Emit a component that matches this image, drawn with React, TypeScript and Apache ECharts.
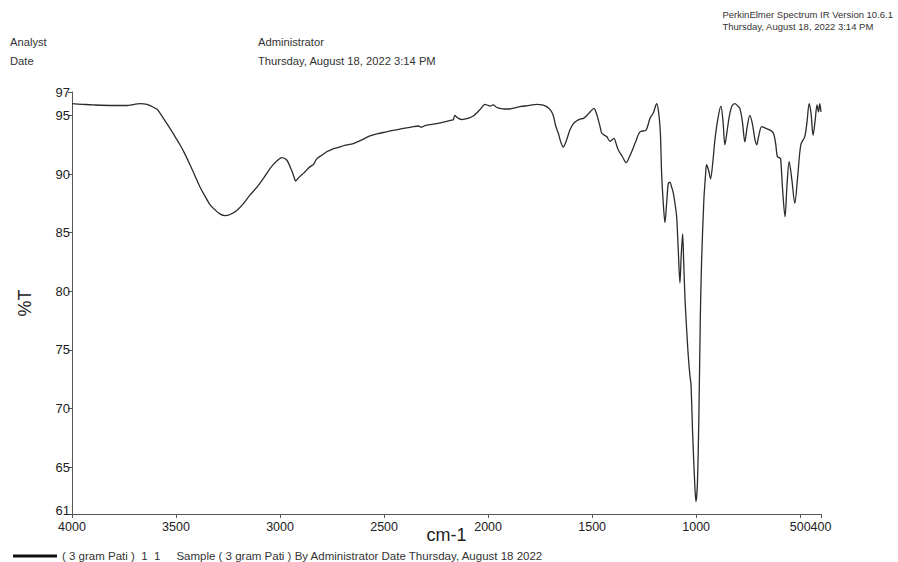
import React, { useEffect, useRef } from "react";
import * as echarts from "echarts";

const seriesName =
  "( 3 gram Pati )  1  1     Sample ( 3 gram Pati ) By Administrator Date Thursday, August 18 2022";

const xTicks = [4000, 3500, 3000, 2500, 2000, 1500, 1000, 500, 400];
const yTicks = [61, 65, 70, 75, 80, 85, 90, 95, 97];

const wavenumbers = [
  4000, 3950, 3900, 3800, 3737, 3700, 3673, 3640, 3620, 3590, 3577, 3555, 3529, 3505, 3481, 3457,
  3433, 3410, 3385, 3360, 3337, 3310, 3289, 3265, 3240, 3208, 3175, 3145, 3110, 3081, 3055, 3033,
  3010, 2992, 2968, 2944, 2932, 2925, 2915, 2904, 2885, 2864, 2850, 2840, 2824, 2800, 2776, 2745,
  2715, 2690, 2648, 2610, 2568, 2530, 2488, 2450, 2408, 2370, 2335, 2320, 2300, 2247, 2210, 2199,
  2175, 2167, 2160, 2150, 2143, 2125, 2111, 2090, 2071, 2050, 2039, 2015, 2000, 1991, 1975, 1960,
  1943, 1920, 1895, 1870, 1847, 1800, 1767, 1740, 1719, 1700, 1687, 1675, 1663, 1650, 1639, 1625,
  1607, 1590, 1574, 1555, 1542, 1525, 1510, 1491, 1480, 1470, 1460, 1454, 1440, 1430, 1414, 1395,
  1385, 1374, 1355, 1337, 1320, 1310, 1290, 1270, 1241, 1222, 1206, 1190, 1180, 1172, 1166, 1158,
  1150, 1142, 1134, 1126, 1118, 1110, 1102, 1094, 1086, 1078, 1072, 1065, 1060, 1054, 1045, 1038,
  1030, 1025, 1017, 1007, 1001, 994, 987, 980, 974, 963, 955, 950, 940, 931, 920, 910,
  895, 881, 871, 862, 851, 841, 828, 814, 800, 790, 778, 766, 755, 742, 730, 718,
  709, 700, 685, 665, 645, 629, 618, 610, 600, 594, 585, 573, 563, 553, 540, 526,
  512, 497, 478, 467, 457, 448, 438, 428, 419, 412, 406, 400,
];

const transmittance = [
  96.0, 95.95, 95.9, 95.85, 95.85, 95.95, 96.0, 95.95, 95.8, 95.5, 95.2, 94.6, 93.9, 93.2, 92.5, 91.7,
  90.8, 89.9, 88.9, 88.1, 87.4, 86.9, 86.6, 86.45, 86.55, 86.9, 87.5, 88.2, 88.9, 89.6, 90.3, 90.8,
  91.2, 91.4, 91.2, 90.3, 89.7, 89.4, 89.6, 89.8, 90.1, 90.5, 90.7, 90.8, 91.3, 91.6, 91.9, 92.15,
  92.3, 92.45, 92.6, 92.9, 93.25, 93.45, 93.6, 93.75, 93.9, 94.0, 94.1, 94.0, 94.15, 94.3, 94.45, 94.5,
  94.6, 94.65, 95.0, 94.85, 94.75, 94.65, 94.7, 94.8, 94.95, 95.3, 95.5, 95.95, 95.85, 95.8, 95.9, 95.7,
  95.6, 95.55, 95.55, 95.65, 95.75, 95.85, 95.95, 95.9, 95.75, 95.45, 95.0, 94.1, 93.5, 92.7, 92.3, 92.8,
  93.75, 94.3, 94.55, 94.7, 94.75, 95.0, 95.3, 95.6, 95.2, 94.6, 93.9, 93.5, 93.3, 93.2, 92.8, 93.05,
  92.6, 92.05, 91.5, 90.97, 91.5, 91.9, 92.8, 93.6, 93.75, 94.75, 95.2, 96.0, 95.2, 93.5, 90.05, 87.5,
  85.85, 87.5, 89.2, 89.3, 88.9, 88.4, 87.5, 86.4, 83.5, 80.7, 83.0, 84.9, 82.5, 79.5, 76.5, 74.5,
  72.8, 72.1, 67.9, 63.6, 62.05, 63.6, 69.3, 77.8, 82.5, 87.8, 89.9, 90.8, 90.3, 89.6, 91.0, 92.9,
  94.8, 95.8, 94.5, 92.5, 93.7, 94.9, 95.8, 96.0, 95.8, 95.6, 94.5, 92.75, 94.0, 95.0, 94.3, 93.0,
  92.5, 93.2, 94.05, 93.9, 93.75, 93.5, 92.6, 91.5, 91.4, 91.3, 88.8, 86.35, 89.2, 91.05, 89.5, 87.5,
  89.8, 92.5, 93.2, 94.5, 96.0, 95.2, 93.3, 94.6, 95.9, 95.3, 96.0, 95.3,
];

const FONT = "'Liberation Sans', Arial, sans-serif";

export default function App() {
  const ref = useRef<HTMLDivElement>(null);
  useEffect(() => {
    if (!ref.current) return;
    const chart = echarts.init(ref.current, null, { renderer: "svg" });
    const data = wavenumbers.map((w, i) => [w, transmittance[i]]);
    chart.setOption({
      animation: false,
      backgroundColor: "#ffffff",
      textStyle: { fontFamily: FONT },
      grid: { left: 72, right: 77, top: 92, bottom: 48, containLabel: false },
      legend: {
        left: 8,
        top: 545,
        icon: "rect",
        itemWidth: 44,
        itemHeight: 3,
        itemGap: 6,
        textStyle: { fontSize: 11.5, color: "#333", fontFamily: FONT },
        data: [seriesName],
      },
      graphic: [
        { type: "text", left: 10, top: 36, style: { text: "Analyst", fontSize: 11.2, fill: "#333", fontFamily: FONT } },
        { type: "text", left: 10, top: 55, style: { text: "Date", fontSize: 11.2, fill: "#333", fontFamily: FONT } },
        { type: "text", left: 258, top: 36, style: { text: "Administrator", fontSize: 11.2, fill: "#333", fontFamily: FONT } },
        {
          type: "text",
          left: 258,
          top: 55,
          style: { text: "Thursday, August 18, 2022 3:14 PM", fontSize: 11.2, fill: "#333", fontFamily: FONT },
        },
        {
          type: "text",
          right: 5,
          top: 8,
          style: {
            text: "PerkinElmer Spectrum IR Version 10.6.1\nThursday, August 18, 2022 3:14 PM",
            fontSize: 9.5,
            lineHeight: 12,
            align: "right",
            fill: "#333",
            fontFamily: FONT,
          },
        },
      ],
      xAxis: {
        type: "value",
        inverse: true,
        min: 400,
        max: 4000,
        name: "cm-1",
        nameLocation: "middle",
        nameGap: 12,
        nameMoveOverlap: false,
        nameTextStyle: { fontSize: 18, color: "#222", fontFamily: FONT },
        axisLine: { show: true, lineStyle: { color: "#555", width: 1 } },
        axisTick: { show: true, length: 4, customValues: xTicks, lineStyle: { color: "#555" } },
        axisLabel: {
          customValues: xTicks,
          fontSize: 12.5,
          color: "#222",
          margin: 6,
          fontFamily: FONT,
          showMinLabel: true,
          showMaxLabel: true,
          hideOverlap: false,
          formatter: (v: number) => String(v),
        },
        splitLine: { show: false },
      },
      yAxis: {
        type: "value",
        min: 61,
        max: 97,
        name: "%T",
        nameLocation: "middle",
        nameGap: 38,
        nameRotate: 90,
        nameTextStyle: { fontSize: 18, color: "#222", fontFamily: FONT },
        axisLine: { show: true, lineStyle: { color: "#555", width: 1 } },
        axisTick: { show: true, length: 4, customValues: yTicks, lineStyle: { color: "#555" } },
        axisLabel: {
          customValues: yTicks,
          fontSize: 13,
          color: "#222",
          margin: 2,
          fontFamily: FONT,
          showMinLabel: true,
          showMaxLabel: true,
          formatter: (v: number) => (v === 61 ? "{lo|61}" : String(v)),
          rich: { lo: { fontSize: 13, color: "#222", fontFamily: FONT, padding: [0, 0, 8, 0] } },
        },
        splitLine: { show: false },
      },
      series: [
        {
          name: seriesName,
          type: "line",
          data,
          showSymbol: false,
          smooth: 0.3,
          lineStyle: { color: "#2b2b2b", width: 1.3 },
          itemStyle: { color: "#111" },
        },
      ],
    });
    return () => chart.dispose();
  }, []);
  return <div ref={ref} style={{ width: 898, height: 562, position: "absolute", left: 0, top: 0 }} />;
}
